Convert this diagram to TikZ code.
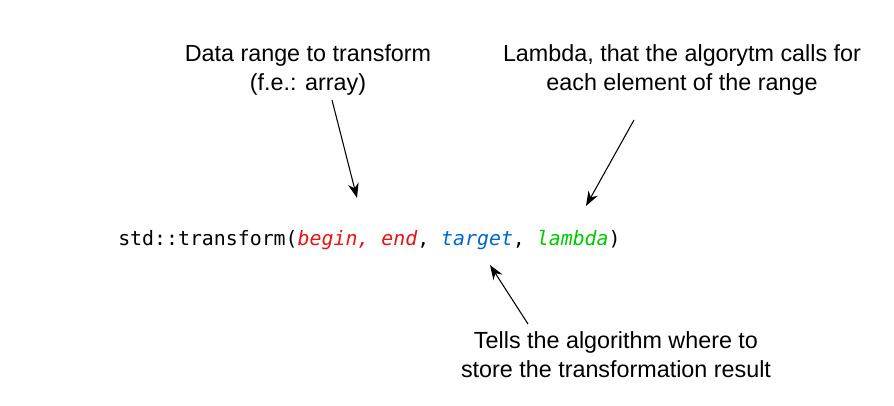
\documentclass[tikz,border=0pt]{standalone}
\usepackage{fontspec}
\setmainfont{Liberation Sans}
\setmonofont{DejaVu Sans Mono}
\usetikzlibrary{arrows.meta}
\definecolor{argred}{RGB}{230,20,20}
\definecolor{argblue}{RGB}{0,102,204}
\definecolor{arggreen}{RGB}{0,200,0}
\tikzset{
  note/.style={align=center, font=\fontsize{17.5}{21.75}\selectfont, inner sep=0pt},
  code/.style={font=\ttfamily\fontsize{14.9}{17}\selectfont, inner sep=0pt, anchor=west},
  pointer/.style={-{Stealth[length=11pt, width=8pt]}, thick}
}
\begin{document}
\begin{tikzpicture}[x=0.75pt, y=-0.75pt]
\useasboundingbox (0,0) rectangle (894,406);
% labels
\node[note] (range) at (308,70) {Data range to transform\\(f.e.: array)};
\node[note] (lambda) at (682,70) {Lambda, that the algorytm calls for\\each element of the range};
\node[note] (target) at (616,355) {Tells the algorithm where to\\store the transformation result};
% the call
\node[code] (call) at (118,240) {std::transform(\textit{\color{argred}begin, end}, \textit{\color{argblue}target}, \textit{\color{arggreen}lambda})};
% arrows
\coordinate (rangeA) at (332,100);
\coordinate (rangeB) at (357,198);
\coordinate (lambdaA) at (634,120);
\coordinate (lambdaB) at (586,206);
\coordinate (targetA) at (528,324);
\coordinate (targetB) at (490,265);
\draw[pointer] (rangeA) -- (rangeB);
\draw[pointer] (lambdaA) -- (lambdaB);
\draw[pointer] (targetA) -- (targetB);
\end{tikzpicture}
\end{document}
